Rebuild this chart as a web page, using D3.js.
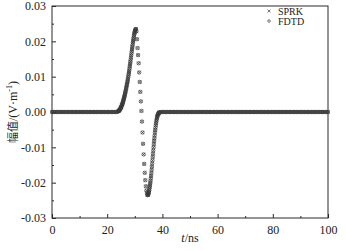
<!DOCTYPE html>
<html>
<head>
<meta charset="utf-8">
<script src="https://cdn.jsdelivr.net/npm/d3@7"></script>
<style>
  body { margin: 0; background: #fff; }
  svg text { font-family: "Liberation Serif", "DejaVu Serif", serif; fill: #222; }
</style>
</head>
<body>
<div id="chart"></div>
<script>
// baseline samples (value 0) before and after the pulse
let base_t = [0,0.5,1,1.5,2,2.5,3,3.5,4,4.5,5,5.5,6,6.5,7,7.5,8,8.5,9,9.5,10,10.5,11,11.5,12,12.5,13,13.5,14,14.5,15,15.5,16,16.5,17,17.5,18,18.5,19,19.5,20,20.5,21,21.5,22,22.5,23,23.5,
  39.5,40,40.5,41,41.5,42,42.5,43,43.5,44,44.5,45,45.5,46,46.5,47,47.5,48,48.5,49,49.5,50,50.5,51,51.5,52,52.5,53,53.5,54,54.5,55,55.5,56,56.5,57,57.5,58,58.5,59,59.5,
  60,60.5,61,61.5,62,62.5,63,63.5,64,64.5,65,65.5,66,66.5,67,67.5,68,68.5,69,69.5,70,70.5,71,71.5,72,72.5,73,73.5,74,74.5,75,75.5,76,76.5,77,77.5,78,78.5,79,79.5,
  80,80.5,81,81.5,82,82.5,83,83.5,84,84.5,85,85.5,86,86.5,87,87.5,88,88.5,89,89.5,90,90.5,91,91.5,92,92.5,93,93.5,94,94.5,95,95.5,96,96.5,97,97.5,98,98.5,99,99.5,100];

// pulse samples
let pulse_t = [
  24.0,24.1,24.2,24.3,24.4,24.5,24.6,24.7,24.8,24.9,25.0,25.1,25.2,25.3,25.4,25.5,25.6,25.7,25.8,25.9,
  26.0,26.1,26.2,26.3,26.4,26.5,26.6,26.7,26.8,26.9,27.0,27.1,27.2,27.3,27.4,27.5,27.6,27.7,27.8,27.9,
  28.0,28.1,28.2,28.3,28.4,28.5,28.6,28.7,28.8,28.9,29.0,29.1,29.2,29.3,29.4,29.5,29.6,29.7,29.8,29.9,
  30.0,30.1,30.2,30.3,30.4,
  30.6,30.8,31.0,31.2,31.4,31.6,31.8,32.0,32.2,32.4,32.6,32.8,33.0,33.2,33.4,33.6,33.8,34.0,34.2,34.4,34.6,
  34.7,34.8,34.9,35.0,35.1,35.2,35.3,35.4,35.5,35.6,35.7,35.8,35.9,36.0,36.1,36.2,36.3,36.4,36.5,36.6,
  36.7,36.8,36.9,37.0,37.1,37.2,37.3,37.4,37.5,37.6,37.7,37.8,37.9,38.0,38.1,38.2,38.3,38.4,38.5,38.6,
  38.7,38.8,38.9,39.0
];
let pulse_v = [
  .0002,.0002,.0003,.0004,.0005,.0006,.0007,.0008,.0010,.0011,.0013,.0015,.0017,.0019,.0021,.0023,.0026,.0028,.0031,.0034,
  .0037,.0040,.0043,.0046,.0049,.0053,.0056,.0060,.0064,.0068,.0072,.0076,.0080,.0084,.0088,.0093,.0098,.0103,.0108,.0113,
  .0118,.0124,.0130,.0136,.0142,.0148,.0154,.0160,.0166,.0172,.0178,.0184,.0190,.0196,.0201,.0206,.0211,.0216,.0220,.0224,
  .0227,.0230,.0232,.0234,.0235,
  .0228,.0206,.0181,.0161,.0138,.0112,.0085,.0057,.0030,.0003,-.0027,-.0058,-.0090,-.0120,-.0147,-.0172,-.0193,-.0210,-.0222,-.0230,-.0235,
  -.0235,-.0234,-.0232,-.0229,-.0226,-.0222,-.0217,-.0212,-.0207,-.0201,-.0195,-.0188,-.0181,-.0173,-.0164,-.0155,-.0146,-.0137,-.0127,-.0118,
  -.0109,-.0100,-.0091,-.0082,-.0074,-.0066,-.0058,-.0051,-.0044,-.0038,-.0032,-.0027,-.0022,-.0018,-.0014,-.0011,-.0009,-.0007,-.0005,-.0004,
  -.0003,-.0002,-.0001,-.0001
];

let series_names = ["SPRK", "FDTD"];
let x_ticks = [0, 20, 40, 60, 80, 100];
let y_ticks = [-0.03, -0.02, -0.01, 0, 0.01, 0.02, 0.03];

// both methods give the same curve
let points = base_t.map(t => ({ t: t, v: 0 }))
  .concat(pulse_t.map((t, i) => ({ t: t, v: pulse_v[i] })));

let W = 346, H = 251;
let margin = { TOP: 6, BOTTOM: 33, LEFT: 52, RIGHT: 18 };
let w = W - margin.LEFT - margin.RIGHT;
let h = H - margin.TOP - margin.BOTTOM;
let ink = "#2a2a2a";
let mark = "#3a3a3a";

let svg = d3.select("#chart").append("svg")
  .attr("width", W).attr("height", H);

let g = svg.append("g")
  .attr("transform", `translate(${margin.LEFT}, ${margin.TOP})`);

let x = d3.scaleLinear().domain([0, 100]).range([0, w]);
let y = d3.scaleLinear().domain([-0.03, 0.03]).range([h, 0]);

// minor ticks
let xMinor = d3.range(10, 100, 20);
let yMinor = d3.range(-0.025, 0.03, 0.01);

g.append("g").attr("transform", `translate(0, ${h})`)
  .call(d3.axisBottom(x).tickValues(x_ticks).tickSize(-4).tickPadding(7).tickFormat(d3.format("d")))
  .call(a => a.select(".domain").remove());
g.append("g").attr("transform", `translate(0, ${h})`)
  .call(d3.axisBottom(x).tickValues(xMinor).tickSize(-2).tickFormat(""))
  .call(a => a.select(".domain").remove());

g.append("g")
  .call(d3.axisLeft(y).tickValues(y_ticks).tickSize(-4).tickPadding(6).tickFormat(d => d.toFixed(2)))
  .call(a => a.select(".domain").remove());
g.append("g")
  .call(d3.axisLeft(y).tickValues(yMinor).tickSize(-2).tickFormat(""))
  .call(a => a.select(".domain").remove());

g.selectAll(".tick line").attr("stroke", ink).attr("stroke-width", 1);
g.selectAll(".tick text").attr("font-size", 12)
  .attr("font-family", "Liberation Serif").attr("fill", ink);

// frame
g.append("rect").attr("width", w).attr("height", h)
  .attr("fill", "none").attr("stroke", ink).attr("stroke-width", 1);

// markers
function cross(sel, s) {
  sel.append("path")
    .attr("d", `M${-s},${-s}L${s},${s}M${-s},${s}L${s},${-s}`)
    .attr("stroke", mark).attr("stroke-width", 0.7).attr("fill", "none");
}
function circ(sel, r) {
  sel.append("circle").attr("r", r)
    .attr("stroke", mark).attr("stroke-width", 0.7).attr("fill", "none");
}

let sprk = g.append("g").selectAll("g.sprk")
  .data(points).enter().append("g").attr("class", "sprk")
  .attr("transform", d => `translate(${x(d.t)}, ${y(d.v)})`);
cross(sprk, 1.6);

let fdtd = g.append("g").selectAll("g.fdtd")
  .data(points).enter().append("g").attr("class", "fdtd")
  .attr("transform", d => `translate(${x(d.t)}, ${y(d.v)})`);
circ(fdtd, 1.7);

// legend
let leg = svg.append("g");
let l1 = leg.append("g").attr("transform", "translate(269, 11)");
cross(l1, 1.5);
let l2 = leg.append("g").attr("transform", "translate(269, 21)");
circ(l2, 1.3);
leg.selectAll("text").data(series_names).enter().append("text")
  .attr("x", 278).attr("y", (d, i) => 14.5 + i * 10)
  .attr("font-size", 10).attr("fill", ink)
  .text(d => d);

// axis titles
let xt = svg.append("text")
  .attr("x", margin.LEFT + w / 2).attr("y", 242)
  .attr("text-anchor", "middle").attr("font-size", 12).attr("fill", ink);
xt.append("tspan").attr("font-style", "italic").text("t");
xt.append("tspan").text("/ns");

let yt = svg.append("text")
  .attr("transform", `translate(17, ${margin.TOP + h / 2}) rotate(-90)`)
  .attr("text-anchor", "middle").attr("font-size", 12).attr("fill", ink);
yt.append("tspan").attr("font-family", "Noto Sans CJK SC").attr("font-size", 11).text("幅值");
yt.append("tspan").text("/(V·m");
yt.append("tspan").attr("font-size", 8).attr("dy", -5).text("-1");
yt.append("tspan").attr("dy", 5).text(")");
</script>
</body>
</html>
